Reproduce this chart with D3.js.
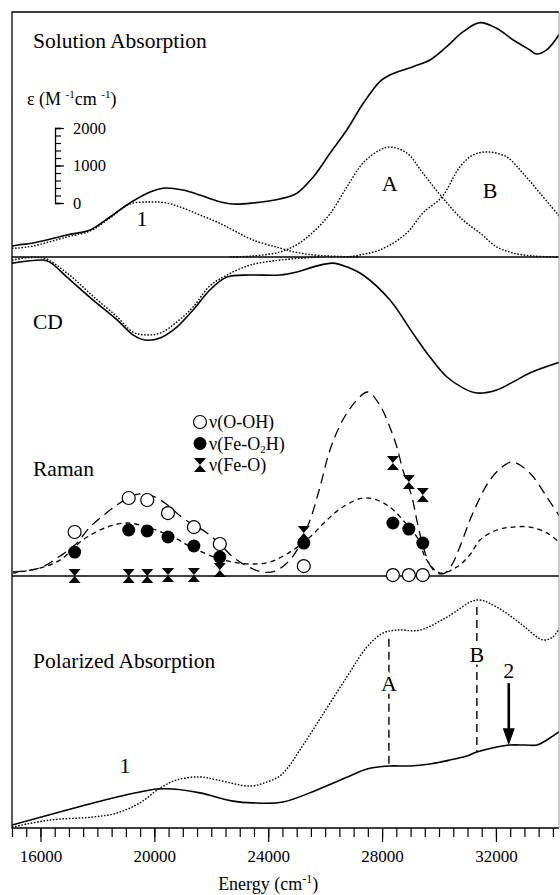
<!DOCTYPE html>
<html>
<head>
<meta charset="utf-8">
<script src="https://cdn.jsdelivr.net/npm/d3@7"></script>
<style>
body{margin:0;background:#fff}
svg{display:block;font-family:"Liberation Serif","Times New Roman",serif}
.solid{fill:none;stroke:#000;stroke-width:1.6}
.dot{fill:none;stroke:#000;stroke-width:1.4;stroke-dasharray:1.6,1.6}
.ldash{fill:none;stroke:#000;stroke-width:1.3;stroke-dasharray:10,6}
.sdash{fill:none;stroke:#000;stroke-width:1.3;stroke-dasharray:5,4}
.vdash{fill:none;stroke:#000;stroke-width:1.4;stroke-dasharray:8,5}
</style>
</head>
<body>
<script>

// energy axis (cm-1)
var energyTicks = [16000, 20000, 24000, 28000, 32000];

// solution absorption, eps in M-1 cm-1 : [energy, eps]
var solAbs = [[15000,293],[15210,320],[15740,373],[16930,587],[17740,720],[18440,1067],[19140,1440],
  [19850,1733],[20370,1840],[21000,1787],[21600,1653],[22200,1493],[22760,1413],[23460,1440],
  [24410,1547],[25000,1698],[25590,2142],[26170,2765],[26760,3387],[27340,4098],[27920,4676],
  [28270,4854],[29090,5076],[29680,5254],[30270,5609],[30850,6009],[31440,6249],[32020,6099],
  [32610,5787],[33190,5521],[33430,5414],[33780,5521],[34250,5966]];
var solBand1 = [[15000,230],[15210,240],[15740,293],[16930,533],[17740,693],[18440,1040],[19140,1413],
  [19850,1467],[20440,1440],[21000,1307],[21600,1120],[22200,933],[22760,720],[23460,453],
  [24410,240],[25000,120],[25810,40],[27220,0]];
var solBandA = [[22660,0],[23460,27],[24410,133],[25010,330],[25570,660],[26170,1150],[26760,1867],
  [27330,2507],[27920,2853],[28270,2933],[28870,2773],[29430,2240],[30100,1600],[30840,987],
  [31440,640],[32030,267],[32590,107],[33300,27],[34250,0]];
var solBandB = [[26760,0],[27920,187],[28870,640],[29430,1173],[30100,1600],[30730,2400],[31190,2720],
  [31720,2800],[32380,2667],[32940,2240],[33540,1707],[34250,1067]];

// CD, arbitrary units
var cdSpec = [[15000,-0.18],[16090,-0.09],[16330,-0.15],[16930,-0.59],[17840,-1.26],[18690,-1.85],
  [19250,-2.29],[19670,-2.44],[20200,-2.38],[20790,-2.06],[21360,-1.56],[21950,-0.97],[22550,-0.59],
  [23360,-0.53],[24410,-0.53],[25010,-0.44],[25590,-0.29],[26270,-0.18],[26760,-0.29],[27330,-0.53],
  [28270,-1.26],[29080,-2.24],[29680,-2.94],[30280,-3.53],[30840,-3.85],[31330,-4.0],[32030,-3.91],
  [32590,-3.68],[33190,-3.41],[34250,-3.09]];
var cdBand1 = [[15000,-0.09],[16090,-0.03],[16930,-0.47],[17840,-1.15],[18690,-1.76],[19250,-2.21],
  [19670,-2.29],[20200,-2.24],[20790,-1.91],[21360,-1.47],[21950,-0.85],[22550,-0.53],[23360,-0.24],
  [24410,-0.09],[25810,0]];

// resonance Raman profiles, relative intensity
var ramanFeO = [[15030,2.2],[15980,4.3],[16690,10.9],[17210,16.8],[17740,26.6],[18270,33.7],[18690,38.6],
  [19140,42.9],[19490,44.6],[19850,44.0],[20370,39.7],[21000,31.5],[21850,23.4],[22300,17.4],
  [22760,10.3],[23250,5.4],[23780,2.2],[24240,2.7],[24660,7.1],[25010,14.1],[25470,30.4],[25820,48.4],
  [26170,68.5],[26620,84.8],[27120,95.7],[27500,100],[27920,92.9],[28270,81.0],[28520,70.1],
  [28730,57.6],[29050,42.9],[29220,30.4],[29430,16.8],[29680,6.0],[29930,1.6],[30210,1.6],[30450,6.0],
  [30730,15.8],[31190,34.2],[31790,52.2],[32310,60.3],[32590,62.0],[33190,56.0],[33790,42.9],[34250,32.1]];
var ramanFeO2H = [[15030,1.6],[15980,4.3],[16690,8.7],[17490,19.6],[18340,26.6],[19040,28.8],[19740,26.6],
  [20650,21.2],[21360,15.2],[22200,9.8],[22760,7.6],[23360,6.5],[24060,7.6],[24870,14.1],[25470,21.2],
  [26060,30.4],[26620,37.5],[27330,42.4],[27820,41.3],[28270,37.5],[28730,30.4],[29220,21.2],
  [29570,8.7],[30030,1.6],[30630,4.9],[31080,11.4],[31440,19.6],[32030,25.0],[32590,26.6],[33190,26.6],
  [33790,23.4],[34250,17.9]];

// Raman data points (laser energies) and intensities
var ramanEnergy = [17200, 19100, 19750, 20480, 21390, 22300, 25250, 28380, 28940, 29430];
var intOOH    = [23.9, 42.4, 41.3, 34.2, 26.6, 17.4, 5.4, 0.5, 0.5, 0.5];
var intFeO2H  = [13.0, 25.0, 24.5, 21.2, 16.3, 10.3, 17.9, 28.8, 25.5, 17.9];
var intFeO    = [0, 0, 0, 0.5, 0.5, 3.3, 23.4, 61.4, 51.1, 44.0];

// polarized absorption, relative absorbance
var polSolid = [[15000,0.013],[16930,0.079],[18690,0.136],[20090,0.171],[20650,0.171],[21600,0.154],
  [22760,0.118],[23460,0.110],[24520,0.114],[25710,0.167],[26870,0.228],[27470,0.259],[28240,0.272],
  [28980,0.272],[29680,0.281],[30380,0.298],[30980,0.316],[31330,0.333],[32030,0.355],[32490,0.364],
  [33020,0.364],[33440,0.364],[33790,0.386],[34250,0.425]];
var polDot = [[15000,0.004],[16330,0.035],[17840,0.048],[18690,0.066],[19490,0.110],[20200,0.175],
  [20790,0.211],[21600,0.224],[22200,0.211],[23360,0.184],[23960,0.202],[24410,0.228],[24760,0.276],
  [25110,0.342],[25570,0.430],[26760,0.662],[27470,0.794],[28030,0.855],[28520,0.868],[29330,0.868],
  [30280,0.925],[31330,1.0],[32030,0.969],[32840,0.899],[33650,0.825],[34000,0.838],[34250,0.882]];
var polBands = ["A", "B"];
var polBandEnergy = [28240, 31330];
var band2Energy = 32450;

var legendLabels = ["O-OH", "Fe-O2H", "Fe-O"];

// ---------------------------------------------------------------

var W = 560, H = 895;
var fr = {left: 12, right: 559, top: 12, bottom: 828};

var svg = d3.select('body').append('svg').attr('width', W).attr('height', H);

var x = d3.scaleLinear().domain([15000, 34250]).range([12, 560]);
var yAbs = d3.scaleLinear().domain([0, 2000]).range([257, 182]);
var yCD = d3.scaleLinear().domain([0, -4]).range([257, 393]);
var yRam = d3.scaleLinear().domain([0, 100]).range([576, 392]);
var yPol = d3.scaleLinear().domain([0, 1]).range([828, 600]);

svg.append('defs').append('clipPath').attr('id', 'clip')
  .append('rect').attr('x', fr.left).attr('y', 0)
  .attr('width', fr.right - fr.left).attr('height', H);

var plot = svg.append('g').attr('clip-path', 'url(#clip)');

function path(y) {
  return d3.line().x(function(d){ return x(d[0]); }).y(function(d){ return y(d[1]); })
    .curve(d3.curveCatmullRom.alpha(0.5));
}
function interp(series, e) {
  for (var i = 1; i < series.length; i++) {
    if (series[i][0] >= e) {
      var a = series[i-1], b = series[i], t = (e - a[0]) / (b[0] - a[0]);
      return a[1] + t * (b[1] - a[1]);
    }
  }
  return series[series.length-1][1];
}

// baselines
plot.append('line').attr('x1', x(15000)).attr('x2', x(34250))
  .attr('y1', yAbs(0)).attr('y2', yAbs(0)).attr('stroke', '#000').attr('stroke-width', 1.5);
plot.append('line').attr('x1', x(15000)).attr('x2', x(34250))
  .attr('y1', yRam(0)).attr('y2', yRam(0)).attr('stroke', '#000').attr('stroke-width', 1.3);

// solution absorption
[solBand1, solBandA, solBandB].forEach(function(s) {
  plot.append('path').datum(s).attr('class', 'dot').attr('d', path(yAbs));
});
plot.append('path').datum(solAbs).attr('class', 'solid').attr('d', path(yAbs));

// CD
plot.append('path').datum(cdBand1).attr('class', 'dot').attr('d', path(yCD));
plot.append('path').datum(cdSpec).attr('class', 'solid').attr('d', path(yCD));

// Raman profiles
plot.append('path').datum(ramanFeO).attr('class', 'ldash').attr('d', path(yRam));
plot.append('path').datum(ramanFeO2H).attr('class', 'sdash').attr('d', path(yRam));

var bowtie = "M-6,-7H6L0,0ZM-6,7H6L0,0Z";
plot.selectAll('.feo').data(ramanEnergy).enter().append('path').attr('class', 'feo')
  .attr('d', bowtie).attr('fill', '#000')
  .attr('transform', function(d, i){ return 'translate(' + x(d) + ',' + yRam(intFeO[i]) + ')'; });
plot.selectAll('.feo2h').data(ramanEnergy).enter().append('circle').attr('class', 'feo2h')
  .attr('cx', function(d){ return x(d); }).attr('cy', function(d, i){ return yRam(intFeO2H[i]); })
  .attr('r', 6.5).attr('fill', '#000');
plot.selectAll('.ooh').data(ramanEnergy).enter().append('circle').attr('class', 'ooh')
  .attr('cx', function(d){ return x(d); }).attr('cy', function(d, i){ return yRam(intOOH[i]); })
  .attr('r', 6.5).attr('fill', '#fff').attr('stroke', '#000').attr('stroke-width', 1.2);

// polarized absorption
plot.append('path').datum(polDot).attr('class', 'dot').attr('d', path(yPol));
plot.append('path').datum(polSolid).attr('class', 'solid').attr('d', path(yPol));

polBands.forEach(function(b, i) {
  var e = polBandEnergy[i];
  plot.append('line').attr('class', 'vdash')
    .attr('x1', x(e)).attr('x2', x(e))
    .attr('y1', yPol(interp(polDot, e)) + 7).attr('y2', yPol(interp(polSolid, e)));
});

// arrow for band 2
var tipY = yPol(interp(polSolid, band2Energy));
plot.append('line').attr('x1', x(band2Energy)).attr('x2', x(band2Energy))
  .attr('y1', tipY - 62).attr('y2', tipY - 14).attr('stroke', '#000').attr('stroke-width', 2.6);
plot.append('path').attr('fill', '#000')
  .attr('d', 'M-6,-17L6,-17L0,0Z')
  .attr('transform', 'translate(' + x(band2Energy) + ',' + tipY + ')');

// frame
svg.append('path').attr('fill', 'none').attr('stroke', '#000').attr('stroke-width', 1.3)
  .attr('d', 'M' + fr.right + ',' + fr.top + 'H' + fr.left + 'V' + fr.bottom + 'H' + fr.right);
svg.append('line').attr('x1', fr.right).attr('x2', fr.right).attr('y1', fr.top).attr('y2', fr.bottom)
  .attr('stroke', '#999').attr('stroke-width', 1);

// x axis
var minorAxis = d3.axisBottom(x).tickValues(d3.range(15000, 34001, 500)).tickSize(9).tickFormat('');
var majorAxis = d3.axisBottom(x).tickValues(energyTicks).tickSize(14).tickPadding(8).tickFormat(d3.format('d'));
[minorAxis, majorAxis].forEach(function(ax) {
  var g = svg.append('g').attr('transform', 'translate(0,' + fr.bottom + ')').call(ax);
  g.select('.domain').remove();
  g.selectAll('line').attr('stroke', '#000').attr('stroke-width', 1.2);
  g.selectAll('text').attr('font-family', '"Liberation Serif", serif').attr('font-size', 17).attr('fill', '#000');
});

var xl = svg.append('text').attr('x', x(24000)).attr('y', 890).attr('text-anchor', 'middle')
  .attr('font-size', 18);
xl.append('tspan').text('Energy (cm');
xl.append('tspan').attr('font-size', 12).attr('dy', -7).text('-1');
xl.append('tspan').attr('dy', 7).text(')');

// eps scale bar for the solution spectrum
var barY = yAbs.copy().range([yAbs(0) - 54, yAbs(2000) - 54]);
var barG = svg.append('g').attr('transform', 'translate(55,0)');
barG.call(d3.axisRight(barY).tickValues(d3.range(0, 2001, 200)).tickSize(6).tickFormat(''));
var barMaj = svg.append('g').attr('transform', 'translate(55,0)')
  .call(d3.axisRight(barY).tickValues([0, 1000, 2000]).tickSize(9).tickPadding(9).tickFormat(d3.format('d')));
barMaj.select('.domain').remove();
svg.selectAll('g path.domain').attr('stroke', '#000').attr('stroke-width', 1.3);
svg.selectAll('g .tick line').attr('stroke', '#000');
barMaj.selectAll('text').attr('font-family', '"Liberation Serif", serif').attr('font-size', 16.5).attr('fill', '#000');
barG.selectAll('.tick line').attr('stroke-width', 1.2);
barMaj.selectAll('.tick line').attr('stroke-width', 1.2);

var eps = svg.append('text').attr('x', 27).attr('y', 105).attr('font-size', 18);
eps.append('tspan').text('\u03b5 (M ');
eps.append('tspan').attr('font-size', 11).attr('dy', -7).text('-1');
eps.append('tspan').attr('dy', 7).text('cm ');
eps.append('tspan').attr('font-size', 11).attr('dy', -7).text('-1');
eps.append('tspan').attr('dy', 7).text(')');

// panel titles
var titles = [["Solution Absorption", 48], ["CD", 329], ["Raman", 476], ["Polarized Absorption", 668]];
svg.selectAll('.title').data(titles).enter().append('text').attr('class', 'title')
  .attr('x', 33).attr('y', function(d){ return d[1]; }).attr('font-size', 21.5)
  .text(function(d){ return d[0]; });

// band labels
function label(t, px, py) {
  svg.append('text').attr('x', px).attr('y', py).attr('dy', '0.35em').attr('text-anchor', 'middle')
    .attr('font-size', 22).attr('stroke', '#fff').attr('stroke-width', 5).attr('paint-order', 'stroke')
    .text(t);
}
label('1', x(19570), yAbs(1040));
label('A', x(28270), yAbs(1970));
label('B', x(31790), yAbs(1790));
label('1', x(18970), yPol(0.276));
label(polBands[0], x(polBandEnergy[0]), yPol(0.636));
label(polBands[1], x(polBandEnergy[1]), yPol(0.76));
label('2', x(band2Energy), yPol(0.69));

// legend
var leg = svg.append('g').attr('transform', 'translate(200,422)');
legendLabels.forEach(function(l, i) {
  var g = leg.append('g').attr('transform', 'translate(0,' + (i * 21.5) + ')');
  if (i == 0) g.append('circle').attr('r', 6.5).attr('fill', '#fff').attr('stroke', '#000').attr('stroke-width', 1.2);
  if (i == 1) g.append('circle').attr('r', 6.5).attr('fill', '#000');
  if (i == 2) g.append('path').attr('d', bowtie).attr('fill', '#000');
  var t = g.append('text').attr('x', 9).attr('y', 6).attr('font-size', 18);
  if (l == "Fe-O2H") {
    t.append('tspan').text('\u03bd(Fe-O');
    t.append('tspan').attr('font-size', 11).attr('dy', 3).text('2');
    t.append('tspan').attr('dy', -3).text('H)');
  } else {
    t.text('\u03bd(' + l + ')');
  }
});

</script>
</body>
</html>
